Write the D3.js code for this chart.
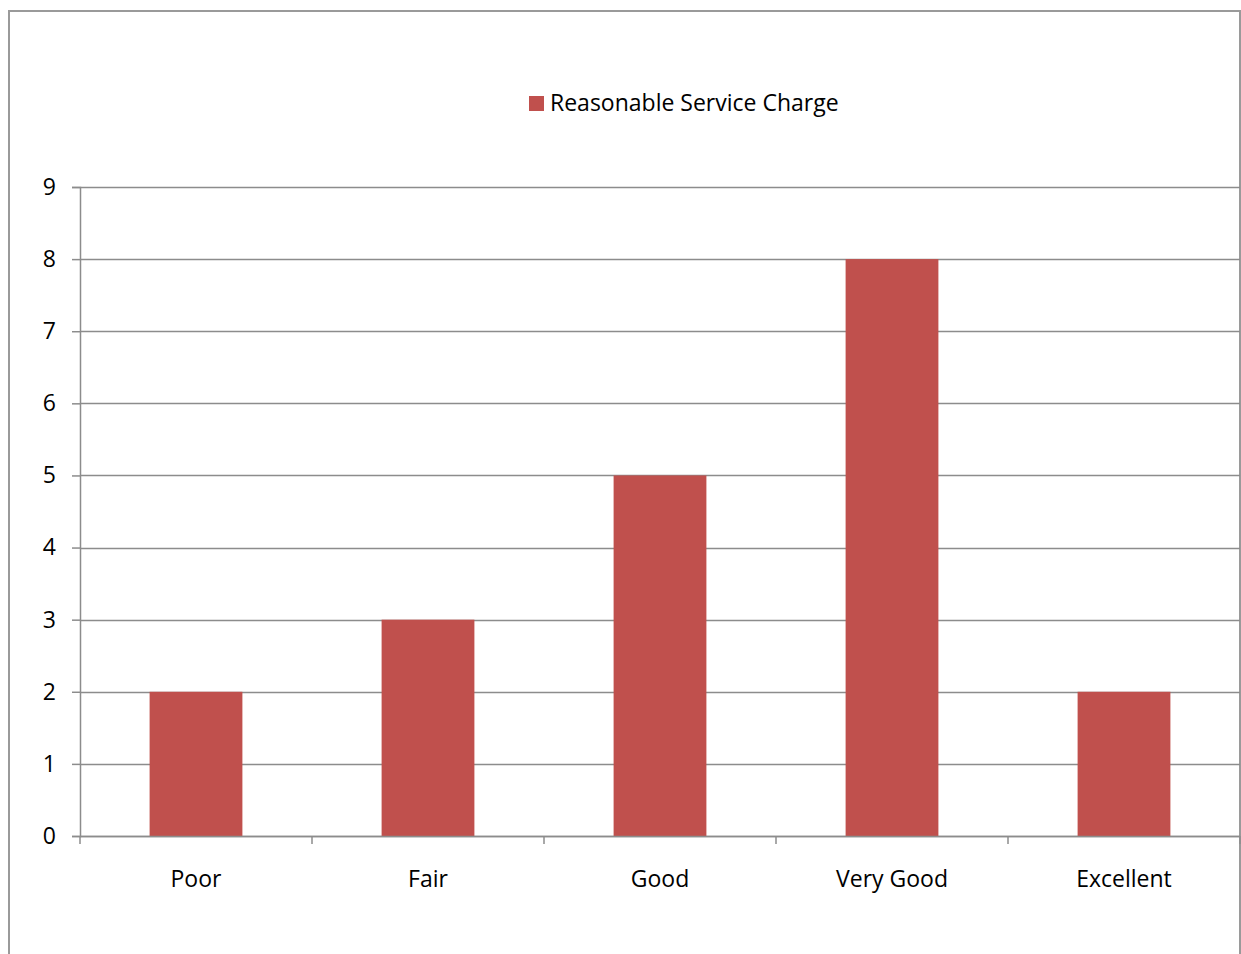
<!DOCTYPE html>
<html>
<head>
<meta charset="utf-8">
<script src="https://cdn.jsdelivr.net/npm/d3@7"></script>
<style>
  body { margin: 0; background: #fff; }
  text { font-family: "Open Sans", "Noto Sans", sans-serif; fill: #000; }
</style>
</head>
<body>
<svg id="chart" width="1241" height="954"></svg>
<script>
const categories = ['Poor', 'Fair', 'Good', 'Very Good', 'Excellent'];
const values = [2, 3, 5, 8, 2];
const seriesName = 'Reasonable Service Charge';
const yTickValues = [0, 1, 2, 3, 4, 5, 6, 7, 8, 9];

const barColor = '#c0504d';
const gridColor = '#8c8c8c';
const fontSize = '23px';

const margin = { left: 80, right: 1, top: 187, bottom: 118 };

const svg = d3.select('#chart');
const width = +svg.attr('width');
const height = +svg.attr('height');
const innerWidth = width - margin.left - margin.right;
const innerHeight = height - margin.top - margin.bottom;

// outer chart border (open at the bottom, runs off the page)
svg.append('path')
    .attr('d', `M9,${height} V11 H1240 V${height}`)
    .attr('fill', 'none')
    .attr('stroke', '#9a9a9a')
    .attr('stroke-width', 2);

const g = svg.append('g')
    .attr('transform', `translate(${margin.left},${margin.top})`);

const xScale = d3.scaleBand()
    .domain(categories)
    .range([0, innerWidth])
    .paddingInner(0.6)
    .paddingOuter(0.3);

const yScale = d3.scaleLinear()
    .domain([0, 9])
    .range([innerHeight, 0]);

/* gridlines */
g.append('g')
    .selectAll('line')
    .data(yTickValues)
    .enter().append('line')
      .attr('x1', 0)
      .attr('x2', innerWidth)
      .attr('y1', d => Math.round(yScale(d)) + 0.5)
      .attr('y2', d => Math.round(yScale(d)) + 0.5)
      .attr('stroke', gridColor)
      .attr('stroke-width', 1.5);

/* bars */
g.append('g')
    .selectAll('rect')
    .data(values)
    .enter().append('rect')
      .attr('x', (d, i) => xScale(categories[i]))
      .attr('y', d => yScale(d))
      .attr('width', xScale.bandwidth())
      .attr('height', d => innerHeight - yScale(d))
      .attr('fill', barColor);

/* y axis */
const yAxis = d3.axisLeft(yScale)
    .tickValues(yTickValues)
    .tickSize(8)
    .tickPadding(16)
    .tickFormat(d3.format('d'));

const yAxisG = g.append('g').call(yAxis);
yAxisG.select('.domain').attr('stroke', gridColor).attr('stroke-width', 1.5);
yAxisG.selectAll('.tick line').attr('stroke', gridColor).attr('stroke-width', 1.5);
yAxisG.selectAll('.tick text')
    .style('font-size', fontSize)
    .style('font-family', '"Open Sans", "Noto Sans", sans-serif');

/* x axis: ticks at band boundaries */
const bandStep = xScale.step();
const xAxisG = g.append('g')
    .attr('transform', `translate(0,${innerHeight})`);

xAxisG.append('line')
    .attr('x1', 0).attr('x2', innerWidth)
    .attr('y1', 0.5).attr('y2', 0.5)
    .attr('stroke', gridColor)
    .attr('stroke-width', 1.5);

xAxisG.selectAll('.xtick')
    .data(d3.range(categories.length + 1))
    .enter().append('line')
      .attr('class', 'xtick')
      .attr('x1', i => i * bandStep)
      .attr('x2', i => i * bandStep)
      .attr('y1', 0)
      .attr('y2', 8)
      .attr('stroke', gridColor)
      .attr('stroke-width', 1.5);

xAxisG.selectAll('.xlabel')
    .data(categories)
    .enter().append('text')
      .attr('class', 'xlabel')
      .attr('x', d => xScale(d) + xScale.bandwidth() / 2)
      .attr('y', 51)
      .attr('text-anchor', 'middle')
      .style('font-size', fontSize)
      .text(d => d);

/* legend */
const legend = svg.append('g')
    .attr('transform', 'translate(529,96)');

legend.append('rect')
    .attr('width', 15)
    .attr('height', 15)
    .attr('fill', barColor);

legend.append('text')
    .attr('x', 21)
    .attr('y', 15)
    .style('font-size', fontSize)
    .text(seriesName);
</script>
</body>
</html>
